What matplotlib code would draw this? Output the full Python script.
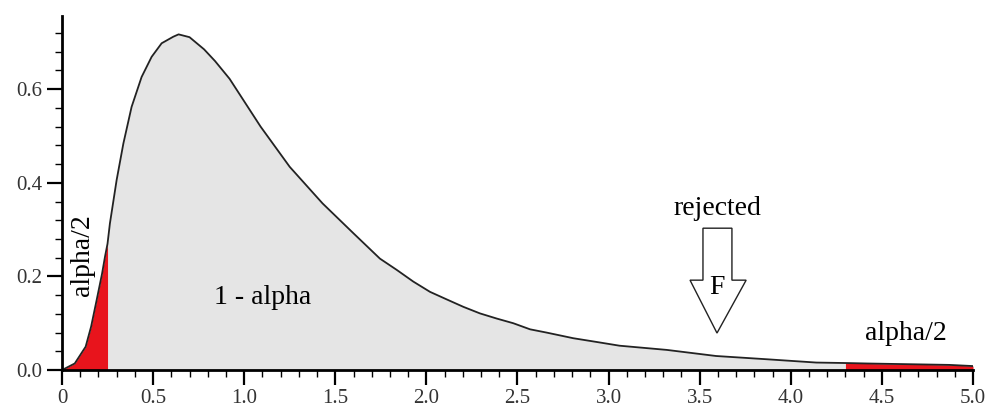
import numpy as np
import matplotlib
matplotlib.use('Agg')
import matplotlib.pyplot as plt
from matplotlib.patches import Polygon
from matplotlib.ticker import MultipleLocator, FixedLocator, FixedFormatter

plt.rcParams['font.family'] = ['Liberation Serif', 'DejaVu Serif']

# density curve
x_vals = [0.0, 0.02, 0.07, 0.13, 0.16, 0.19, 0.22, 0.236, 0.25, 0.263, 0.30, 0.337,
          0.382, 0.437, 0.492, 0.547, 0.611, 0.64, 0.70, 0.78, 0.84, 0.92, 1.09,
          1.25, 1.43, 1.60, 1.745, 1.837, 1.928, 2.02, 2.111, 2.203, 2.294, 2.386,
          2.477, 2.569, 2.66, 2.806, 2.95, 3.06, 3.32, 3.59, 3.87, 4.14, 4.30,
          4.42, 4.87, 5.0]
y_vals = [0.0, 0.004, 0.014, 0.050, 0.093, 0.149, 0.206, 0.242, 0.270, 0.313, 0.406, 0.484,
          0.562, 0.626, 0.669, 0.698, 0.712, 0.717, 0.711, 0.685, 0.660, 0.622, 0.520,
          0.434, 0.356, 0.292, 0.238, 0.214, 0.189, 0.167, 0.151, 0.135, 0.121, 0.110,
          0.100, 0.087, 0.080, 0.068, 0.059, 0.052, 0.043, 0.030, 0.023, 0.016, 0.015,
          0.014, 0.011, 0.0085]

lower_crit = 0.25
upper_crit = 4.30

x_tick_vals = [0, 0.5, 1.0, 1.5, 2.0, 2.5, 3.0, 3.5, 4.0, 4.5, 5.0]
x_tick_labels = ['0', '0.5', '1.0', '1.5', '2.0', '2.5', '3.0', '3.5', '4.0', '4.5', '5.0']
y_tick_vals = [0.0, 0.2, 0.4, 0.6]
y_tick_labels = ['0.0', '0.2', '0.4', '0.6']

x = np.array(x_vals)
y = np.array(y_vals)

fig = plt.figure(figsize=(9.87, 4.13), dpi=100)
ax = fig.add_axes([0.0628, 0.104, 0.923, 0.857])

# grey body, red tails
ax.fill_between(x, y, color='#e5e5e5', lw=0)
lo = x <= lower_crit
hi = x >= upper_crit
ax.fill_between(x[lo], y[lo], color='#e8141c', lw=0)
ax.fill_between(x[hi], y[hi], color='#e8141c', lw=0)
ax.plot(x, y, color='#222222', lw=1.3)

ax.set_xlim(0, 5.0)
ax.set_ylim(0, 0.756)

for side in ['top', 'right']:
    ax.spines[side].set_visible(False)
for side in ['left', 'bottom']:
    ax.spines[side].set_linewidth(2)

ax.xaxis.set_major_locator(FixedLocator(x_tick_vals))
ax.xaxis.set_major_formatter(FixedFormatter(x_tick_labels))
ax.xaxis.set_minor_locator(MultipleLocator(0.1))
ax.yaxis.set_major_locator(FixedLocator(y_tick_vals))
ax.yaxis.set_major_formatter(FixedFormatter(y_tick_labels))
ax.yaxis.set_minor_locator(MultipleLocator(0.04))
ax.tick_params(which='major', length=11, width=1.6, direction='out',
               labelsize=15, labelcolor='#333333', pad=3)
ax.tick_params(which='minor', length=5, width=1.0, direction='out')

# labels
ax.text(0.11, 0.245, 'alpha/2', rotation=90, ha='center', va='center', fontsize=20)
ax.text(1.10, 0.156, '1 - alpha', ha='center', va='center', fontsize=20)
ax.text(4.63, 0.079, 'alpha/2', ha='center', va='center', fontsize=20)
ax.text(3.595, 0.345, 'rejected', ha='center', va='center', fontsize=20)

# hollow arrow pointing at F
arrow = Polygon([[3.518, 0.303], [3.677, 0.303], [3.677, 0.192], [3.755, 0.192],
                 [3.595, 0.079], [3.447, 0.192], [3.518, 0.192]],
                closed=True, facecolor='white', edgecolor='#222222', lw=1.0)
ax.add_patch(arrow)
ax.text(3.595, 0.177, 'F', ha='center', va='center', fontsize=20)

plt.savefig('out.png', dpi=100)
